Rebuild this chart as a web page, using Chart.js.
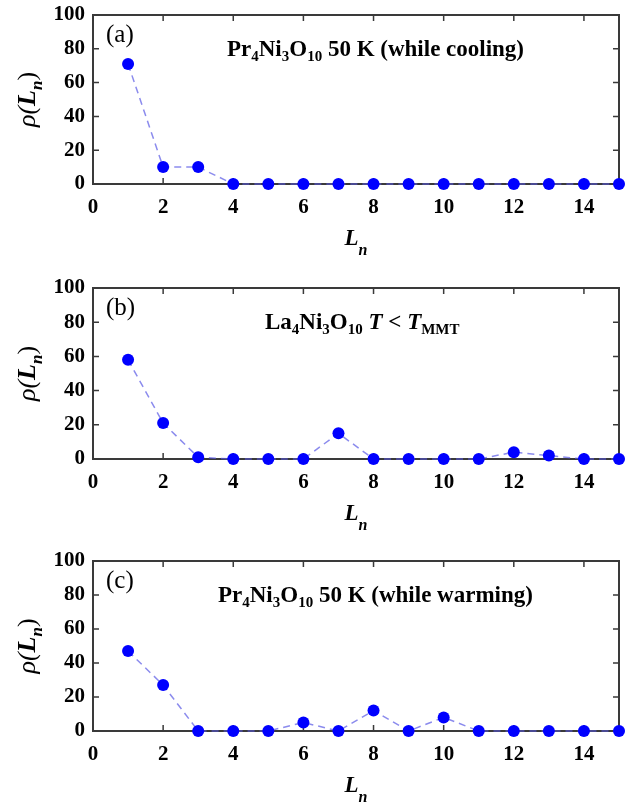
<!DOCTYPE html>
<html>
<head>
<meta charset="utf-8">
<script src="https://cdn.jsdelivr.net/npm/chart.js@4/dist/chart.umd.min.js"></script>
<style>
  body { margin: 0; background: #fff; }
  .panel { position: absolute; left: 0; width: 629px; }
</style>
</head>
<body>
<div class="panel" style="top:0px;height:273px"><canvas id="chartA"></canvas></div>
<div class="panel" style="top:273px;height:273px"><canvas id="chartB"></canvas></div>
<div class="panel" style="top:546px;height:258px"><canvas id="chartC"></canvas></div>
<script>
let lengths = [1, 2, 3, 4, 5, 6, 7, 8, 9, 10, 11, 12, 13, 14, 15];
let rhoPrCooling = [71, 10, 10, 0, 0, 0, 0, 0, 0, 0, 0, 0, 0, 0, 0];
let rhoLa = [58, 21, 1, 0, 0, 0, 15, 0, 0, 0, 0, 4, 2, 0, 0];
let rhoPrWarming = [47, 27, 0, 0, 0, 5, 0, 12, 0, 8, 0, 0, 0, 0, 0];
let xTicks = [0, 2, 4, 6, 8, 10, 12, 14];
let yTicks = [0, 20, 40, 60, 80, 100];

const serif = "'Liberation Serif', 'Times New Roman', serif";
const B = 'bold 23px ' + serif;
const S = 'bold 15px ' + serif;
const I = 'italic bold 23px ' + serif;

// draws a run of text pieces, [text, font, shift down]
function drawRuns(ctx, runs, x, y) {
  runs.forEach(r => {
    ctx.font = r[1];
    ctx.fillText(r[0], x, y + (r[2] || 0));
    x += ctx.measureText(r[0]).width;
  });
  return x;
}
function runsWidth(ctx, runs) {
  let w = 0;
  runs.forEach(r => { ctx.font = r[1]; w += ctx.measureText(r[0]).width; });
  return w;
}

const panelDecor = {
  id: 'panelDecor',
  beforeDatasetsDraw(chart) {
    const {ctx, chartArea: a, scales: {x, y}} = chart;
    ctx.save();
    ctx.strokeStyle = '#3a3a3a';
    ctx.lineWidth = 2;
    ctx.strokeRect(a.left, a.top, a.right - a.left, a.bottom - a.top);
    ctx.lineWidth = 1.5;
    ctx.beginPath();
    xTicks.forEach(v => {
      const px = x.getPixelForValue(v);
      ctx.moveTo(px, a.bottom); ctx.lineTo(px, a.bottom - 6);
      ctx.moveTo(px, a.top); ctx.lineTo(px, a.top + 6);
    });
    yTicks.forEach(v => {
      const py = y.getPixelForValue(v);
      ctx.moveTo(a.left, py); ctx.lineTo(a.left + 6, py);
      ctx.moveTo(a.right, py); ctx.lineTo(a.right - 6, py);
    });
    ctx.stroke();
    ctx.restore();
  },
  afterDraw(chart, args, opts) {
    const {ctx, chartArea: a} = chart;
    ctx.save();
    ctx.fillStyle = '#000';
    ctx.textBaseline = 'alphabetic';
    // panel letter
    ctx.font = '25px ' + serif;
    ctx.fillText(opts.tag, a.left + 13, a.top + 27);
    // panel title
    drawRuns(ctx, opts.title, opts.titleX, a.top + 41);
    // x axis title
    const xr = [['L', 'italic bold 23px ' + serif], ['n', 'italic bold 16px ' + serif, 10]];
    const cx = (a.left + a.right) / 2;
    drawRuns(ctx, xr, cx - runsWidth(ctx, xr) / 2, a.bottom + 61);
    // y axis title, rotated
    const yr = [['\u03c1(', 'italic 26px ' + serif], ['L', 'italic bold 26px ' + serif],
                ['n', 'italic bold 17px ' + serif, 7], [')', '26px ' + serif]];
    ctx.translate(35, (a.top + a.bottom) / 2);
    ctx.rotate(-Math.PI / 2);
    drawRuns(ctx, yr, -runsWidth(ctx, yr) / 2, 0);
    ctx.restore();
  }
};

function makeChart(id, values, tag, title, titleX, plotBottom, height) {
  new Chart(document.getElementById(id), {
    type: 'scatter',
    data: {
      datasets: [{
        data: lengths.map((v, i) => ({x: v, y: values[i]})),
        showLine: true,
        borderColor: 'rgba(90, 90, 230, 0.7)',
        borderWidth: 1.5,
        borderDash: [7, 5],
        pointRadius: 6,
        pointHoverRadius: 6,
        pointBackgroundColor: '#0000ff',
        pointBorderWidth: 0,
        clip: false
      }]
    },
    options: {
      responsive: true,
      maintainAspectRatio: false,
      animation: false,
      layout: { padding: { top: 15, right: 10, left: 0, bottom: 0 } },
      plugins: {
        legend: { display: false },
        tooltip: { enabled: false },
        panelDecor: { tag: tag, title: title, titleX: titleX }
      },
      scales: {
        x: {
          type: 'linear', min: 0, max: 15,
          grid: { display: false },
          border: { display: false },
          afterBuildTicks: s => { s.ticks = xTicks.map(v => ({value: v})); },
          afterFit: s => { s.height = height - plotBottom; },
          ticks: { color: '#000', padding: 3, maxRotation: 0, font: { family: serif, size: 21, weight: 'bold' } }
        },
        y: {
          min: 0, max: 100,
          grid: { display: false },
          border: { display: false },
          afterBuildTicks: s => { s.ticks = yTicks.map(v => ({value: v})); },
          afterFit: s => { s.width = 93; },
          ticks: { color: '#000', padding: 0, font: { family: serif, size: 21, weight: 'bold' } }
        }
      }
    },
    plugins: [panelDecor]
  });
}

makeChart('chartA', rhoPrCooling, '(a)',
  [['Pr', B], ['4', S, 5], ['Ni', B], ['3', S, 5], ['O', B], ['10', S, 5], [' 50 K (while cooling)', B]],
  227, 184, 273);
makeChart('chartB', rhoLa, '(b)',
  [['La', B], ['4', S, 5], ['Ni', B], ['3', S, 5], ['O', B], ['10', S, 5], [' ', B], ['T', I], [' < ', B], ['T', I], ['MMT', 'bold 15px ' + serif, 5]],
  265, 186, 273);
makeChart('chartC', rhoPrWarming, '(c)',
  [['Pr', B], ['4', S, 5], ['Ni', B], ['3', S, 5], ['O', B], ['10', S, 5], [' 50 K (while warming)', B]],
  218, 185, 258);
</script>
</body>
</html>
